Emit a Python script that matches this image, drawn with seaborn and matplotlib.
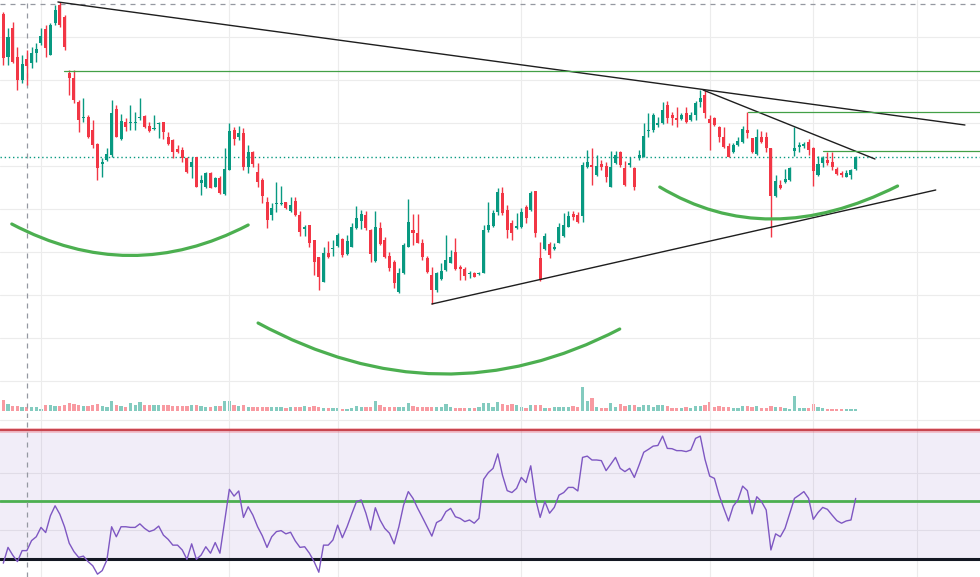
import matplotlib.pyplot as plt
from matplotlib.path import Path
from matplotlib.patches import PathPatch
import numpy as np
import seaborn as sns

# 캔들 데이터 (시가, 고가, 저가, 종가)
open_ = [386, 343, 372, 343, 320, 341, 337, 347, 357, 371, 345, 377, 395, 383, 327, 322, 298, 282, 283, 270,
         256, 236, 240, 245, 291, 261, 278, 277, 277, 282, 284, 274, 271, 276, 278, 263, 260, 251, 250, 242,
         233, 243, 217, 213, 227, 213, 222, 206, 230, 270, 263, 267, 233, 248, 228, 220, 198, 185, 196, 196,
         198, 189, 199, 185, 171, 175, 160, 143, 118, 147, 151, 154, 161, 146, 153, 172, 179, 185, 170, 139,
         172, 160, 144, 138, 108, 127, 153, 170, 167, 157, 142, 125, 110, 121, 130, 137, 148, 133, 131, 126,
         127, 126, 127, 170, 174, 188, 207, 190, 177, 172, 173, 193, 190, 209, 142, 151, 156, 151, 157, 164,
         173, 186, 185, 184, 233, 235, 225, 236, 234, 213, 237, 248, 232, 235, 232, 242, 243, 269, 270, 275,
         277, 295, 285, 282, 281, 287, 280, 285, 298, 305, 281, 282, 273, 263, 254, 248, 255, 258, 270, 262,
         246, 263, 263, 252, 204, 215, 218, 220, 249, 253, 254, 258, 252, 225, 237, 240, 238, 231, 227, 223,
         225, 231]
high = [388, 372, 378, 353, 345, 350, 353, 357, 372, 375, 377, 395, 398, 385, 330, 330, 300, 302, 285, 280,
        257, 242, 252, 300, 295, 286, 282, 295, 288, 302, 285, 278, 285, 278, 278, 268, 261, 255, 253, 243,
        243, 243, 225, 228, 228, 223, 224, 252, 277, 273, 274, 272, 255, 249, 237, 222, 203, 197, 218, 214,
        198, 203, 203, 189, 175, 175, 160, 143, 153, 159, 160, 167, 162, 165, 177, 194, 190, 189, 171, 189,
        178, 163, 148, 140, 132, 157, 201, 186, 186, 161, 144, 133, 128, 137, 165, 150, 162, 135, 133, 129,
        128, 128, 175, 198, 190, 212, 213, 195, 180, 187, 192, 195, 209, 209, 158, 167, 158, 157, 177, 187,
        189, 189, 188, 238, 250, 252, 245, 240, 238, 249, 249, 249, 239, 243, 233, 250, 277, 287, 287, 283,
        298, 299, 288, 293, 287, 293, 288, 299, 310, 310, 285, 283, 274, 273, 257, 257, 263, 274, 288, 262,
        271, 269, 268, 252, 225, 220, 231, 233, 273, 258, 258, 261, 253, 244, 244, 248, 248, 233, 229, 230,
        231, 244]
low = [335, 335, 337, 310, 317, 315, 332, 338, 355, 343, 345, 375, 373, 350, 305, 297, 268, 278, 262, 252,
       220, 223, 239, 243, 263, 260, 269, 270, 270, 280, 272, 268, 270, 262, 261, 255, 242, 247, 238, 227,
       222, 213, 205, 212, 212, 213, 206, 205, 230, 255, 260, 230, 227, 233, 213, 197, 172, 180, 188, 195,
       191, 188, 184, 164, 164, 153, 125, 110, 118, 142, 144, 153, 143, 145, 153, 171, 171, 170, 138, 138,
       155, 142, 129, 112, 107, 126, 153, 155, 157, 140, 127, 96, 108, 120, 129, 137, 130, 120, 120, 122,
       123, 125, 127, 168, 173, 185, 185, 162, 160, 171, 172, 177, 189, 163, 119, 150, 142, 150, 157, 163,
       173, 180, 177, 178, 232, 215, 224, 230, 218, 213, 236, 233, 214, 233, 210, 240, 243, 263, 268, 273,
       276, 277, 275, 273, 280, 277, 279, 280, 293, 282, 250, 274, 258, 252, 243, 247, 254, 257, 262, 247,
       245, 257, 248, 163, 203, 211, 217, 219, 244, 248, 252, 245, 214, 224, 233, 235, 230, 225, 223, 223,
       221, 230]
close = [342, 363, 338, 320, 336, 334, 347, 351, 364, 352, 375, 390, 375, 353, 322, 300, 280, 283, 263, 255,
         232, 238, 246, 287, 263, 279, 273, 278, 278, 283, 273, 269, 272, 277, 268, 256, 248, 248, 242, 228,
         238, 213, 220, 227, 212, 222, 207, 231, 269, 261, 267, 233, 248, 236, 218, 204, 180, 192, 197, 197,
         192, 195, 185, 168, 173, 157, 138, 123, 147, 143, 152, 165, 145, 159, 173, 182, 186, 172, 146, 173,
         156, 143, 132, 117, 127, 155, 178, 167, 157, 143, 128, 110, 127, 129, 140, 143, 131, 131, 124, 127,
         123, 127, 170, 175, 187, 208, 187, 170, 167, 174, 188, 182, 207, 167, 120, 164, 145, 153, 173, 175,
         184, 183, 178, 235, 238, 233, 234, 233, 223, 233, 245, 235, 215, 237, 213, 245, 264, 270, 285, 277,
         290, 282, 282, 280, 285, 278, 285, 297, 302, 287, 277, 275, 263, 253, 243, 255, 259, 271, 267, 248,
         263, 258, 252, 204, 219, 212, 221, 232, 252, 255, 256, 250, 229, 236, 242, 237, 233, 226, 225, 227,
         230, 243]
volume = [11, 7, 5, 5, 4, 4, 4, 4, 2, 6, 6, 5, 5, 6, 8, 7, 6, 5, 5, 6,
          7, 5, 4, 10, 6, 5, 4, 8, 6, 9, 6, 6, 6, 6, 6, 6, 5, 5, 5, 5,
          6, 6, 5, 4, 4, 5, 5, 10, 10, 6, 5, 6, 4, 4, 4, 4, 4, 4, 4, 4,
          3, 4, 4, 4, 5, 4, 5, 4, 3, 3, 3, 3, 2, 2, 3, 5, 4, 4, 4, 10,
          6, 4, 4, 4, 4, 4, 8, 5, 4, 4, 4, 4, 4, 4, 7, 4, 3, 3, 3, 3,
          3, 4, 8, 8, 4, 9, 7, 6, 7, 6, 4, 3, 6, 6, 6, 3, 3, 4, 4, 4,
          4, 5, 4, 24, 10, 13, 4, 3, 3, 8, 4, 7, 5, 6, 6, 4, 6, 6, 4, 6,
          6, 5, 3, 3, 3, 4, 3, 5, 5, 6, 9, 4, 5, 4, 4, 3, 3, 5, 5, 4,
          5, 3, 3, 5, 4, 4, 3, 2, 15, 3, 3, 3, 7, 4, 3, 2, 2, 2, 2, 2,
          2, 2]
rsi = [28.7, 33.6, 31.2, 29.2, 32.6, 32.6, 35.7, 36.9, 39.8, 38.2, 43.4, 46.5, 43.9, 40.0, 34.9, 32.3, 30.5, 30.9,
       29.2, 27.9, 25.3, 26.4, 29.7, 40.0, 36.9, 40.0, 40.0, 39.8, 39.8, 40.9, 39.5, 38.5, 39.0, 40.2, 37.4, 36.1,
       34.3, 34.3, 32.8, 29.9, 34.7, 29.9, 31.2, 33.8, 31.8, 35.1, 31.8, 41.6, 51.6, 49.5, 51.1, 42.9, 46.2, 43.6,
       40.0, 37.2, 33.6, 36.9, 38.5, 38.8, 37.8, 38.3, 35.6, 33.6, 33.8, 31.8, 29.2, 25.9, 34.3, 34.3, 35.9, 40.5,
       36.6, 40.0, 44.0, 47.8, 48.3, 44.2, 39.0, 45.9, 42.1, 39.5, 38.0, 34.7, 40.0, 46.7, 50.9, 48.8, 45.7, 42.9,
       40.0, 37.1, 41.3, 42.1, 44.7, 45.7, 43.1, 42.6, 41.6, 42.1, 41.1, 42.6, 54.7, 56.8,
       58.1, 62.6, 56.0, 51.2, 50.6, 51.9, 55.3, 53.7, 58.9, 48.8, 42.9, 47.8, 44.2, 46.0, 49.8, 50.6, 52.2, 52.2,
       51.1, 61.5, 61.9, 60.7, 60.7, 60.5, 57.4, 59.4, 61.5, 58.1, 57.1, 58.1, 55.3, 59.1, 63.1, 64.0, 65.0, 65.2,
       68.1, 64.3, 64.2, 63.6, 63.6, 63.3, 63.8, 67.4, 68.1, 60.9, 55.7, 55.0, 49.8, 45.7, 41.8, 46.4, 48.3, 52.6,
       51.2, 44.0, 49.3, 47.8, 45.2, 32.8, 37.8, 36.9, 39.5, 44.2, 48.8, 49.8, 50.9, 48.8, 42.3, 44.4, 46.0, 45.4,
       43.6, 41.9, 41.1, 41.8, 42.1, 48.8]

# 그림 위 작도 (봉 번호, 가격)
trend_lines = [((11.6, 398), (204.2, 275)), ((148.6, 310), (185.1, 241)), ((91.0, 96), (198.0, 210))]
level_lines = [(12.9, 329), (158.1, 288), (174.0, 249)]
arcs = [((1.8, 176), (26.9, 144.5), (52.0, 175)),
        ((54.1, 77), (92.7, 26), (130.9, 71)),
        ((139.4, 213), (163.4, 181), (189.9, 214))]
rsi_levels = {'upper': 70, 'mid': 48, 'lower': 30}
cross_x, cross_y = 5.0, 396
grid_x = [8, 48, 71, 110, 150, 172, 194]

GREEN, RED = '#089981', '#f23645'
sns.set_theme(style='white')

idx = np.arange(len(close))
up = np.array(close) >= np.array(open_)
colors = np.where(up, GREEN, RED)

fig = plt.figure(figsize=(9.8, 5.77), dpi=100)
ax = fig.add_axes([0, 159 / 577, 1, 418 / 577])
ax_r = fig.add_axes([0, 0, 1, 159 / 577])
ax_v = ax.twinx()

xlim = (-0.7, 207.4)

# 거래량
ax_v.bar(idx, volume, width=0.7, color=colors, alpha=0.5, linewidth=0)
ax_v.set_ylim(-7, 411)

# 캔들
ax.vlines(idx, low, high, colors=colors, linewidth=1, zorder=3)
body_lo = np.minimum(open_, close)
body_h = np.maximum(np.abs(np.array(close) - np.array(open_)), 0.8)
ax.bar(idx, body_h, bottom=body_lo, width=0.64, color=colors, linewidth=0, zorder=4)

for (x0, y0), (x1, y1) in trend_lines:
    ax.plot([x0, x1], [y0, y1], color='#1e1e1e', lw=1.0, zorder=5)
for x0, y in level_lines:
    ax.plot([x0, xlim[1]], [y, y], color='#43a047', lw=0.9, zorder=5)
for p0, m, p2 in arcs:
    p0, m, p2 = np.array(p0), np.array(m), np.array(p2)
    c = 2 * m - (p0 + p2) / 2
    path = Path([p0, c, p2], [Path.MOVETO, Path.CURVE3, Path.CURVE3])
    ax.add_patch(PathPatch(path, fill=False, edgecolor='#4caf50', lw=2.3, zorder=5, capstyle='round'))

ax.axhline(close[-1], color=GREEN, ls=(0, (1, 2)), lw=1, zorder=2)
ax.axhline(cross_y, color='#9598a1', ls=(0, (4, 4)), lw=0.9)
ax.set_ylim(-18, 400)
ax.set_yticks(np.arange(19, 400, 43))

# RSI
ax_r.axhspan(rsi_levels['lower'], rsi_levels['upper'], color='#7e57c2', alpha=0.1, lw=0)
ax_r.axhline(73.1, color='#ececec', lw=0.8)
ax_r.axhline(rsi_levels['upper'], color='#f23645', lw=3.5, alpha=0.25)
ax_r.axhline(rsi_levels['upper'], color='#c8454f', lw=1.6)
ax_r.axhline(rsi_levels['mid'], color='#4caf50', lw=2)
ax_r.axhline(rsi_levels['lower'], color='#131722', lw=2.2)
sns.lineplot(x=idx, y=rsi, ax=ax_r, color='#7e57c2', linewidth=1)
ax_r.set_ylim(24.42, 73.72)
ax_r.set_yticks([39.0, 56.7])

for a in (ax, ax_r):
    a.set_xlim(*xlim)
    a.set_xticks(grid_x)
    a.grid(True, color='#ececec', lw=0.8)
    a.set_axisbelow(True)
    a.axvline(cross_x, color='#9598a1', ls=(0, (4, 4)), lw=0.9)
    a.tick_params(length=0, labelleft=False, labelbottom=False)
    for s in a.spines.values():
        s.set_visible(False)
ax_v.set_yticks([])
for s in ax_v.spines.values():
    s.set_visible(False)
ax.set_zorder(ax_v.get_zorder() + 1)
ax.patch.set_visible(False)

fig.savefig('out.png', dpi=100)
